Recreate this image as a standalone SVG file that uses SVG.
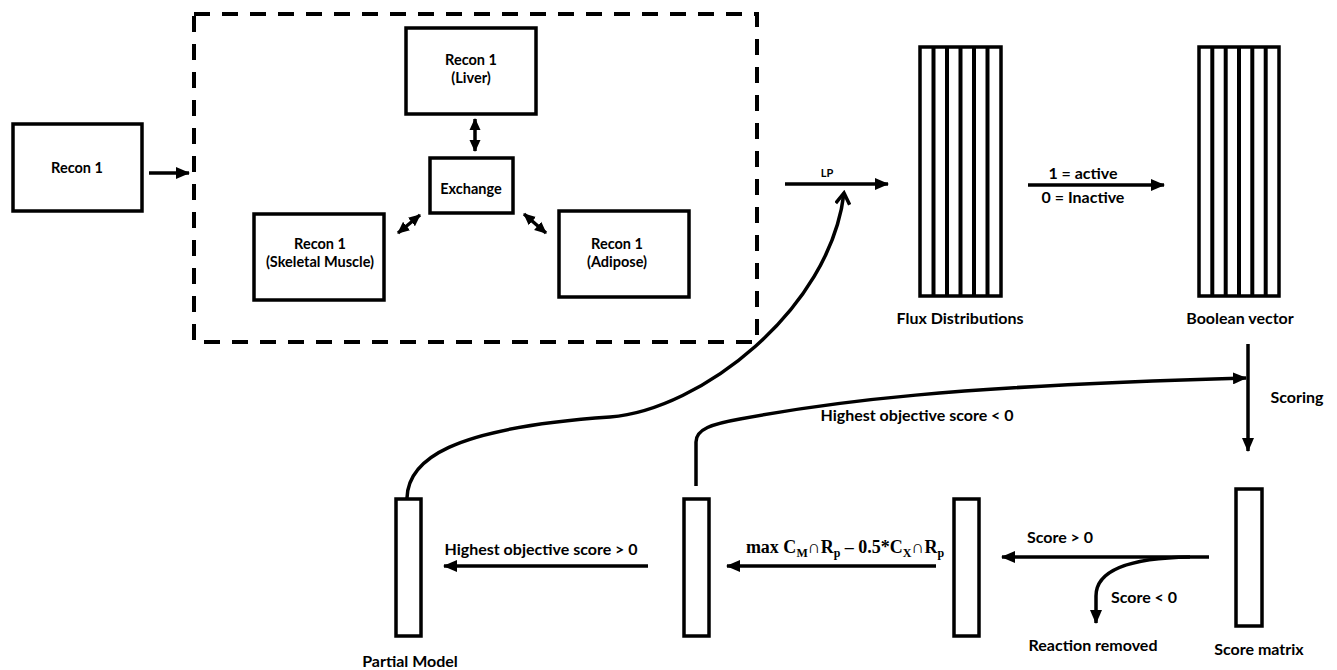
<svg xmlns="http://www.w3.org/2000/svg" width="1337" height="670" viewBox="0 0 1337 670">
<style>
.box{fill:#fff;stroke:#000;stroke-width:3.5}
.lbl{font-family:Lato,"Liberation Sans",sans-serif;font-weight:bold;font-size:16px;fill:#000;text-anchor:middle}
.bt{font-size:14.5px}
.sm{font-size:11px}
.con{fill:none;stroke:#000;stroke-width:3.5}
.math{font-family:"Liberation Serif",serif;font-weight:bold;font-size:18px;fill:#000;text-anchor:middle}
.stripe{stroke:#000;stroke-width:4}
</style>
<defs>
<marker id="ah" markerUnits="userSpaceOnUse" markerWidth="14" markerHeight="12" refX="13" refY="6" orient="auto-start-reverse"><path d="M0,0 L14,6 L0,12 z" fill="#000"/></marker>
<marker id="ahs" markerUnits="userSpaceOnUse" markerWidth="12" markerHeight="12" refX="11" refY="6" orient="auto-start-reverse"><path d="M0,0.5 L12,6 L0,11.5 z" fill="#000"/></marker>
<marker id="open" markerUnits="userSpaceOnUse" markerWidth="16" markerHeight="16" refX="13" refY="8" orient="auto"><path d="M2,1 L13,8 L2,15" fill="none" stroke="#000" stroke-width="3.5"/></marker>
</defs>

<g id="dashed-container"><rect x="194" y="14" width="563" height="328" fill="none" stroke="#000" stroke-width="4" stroke-dasharray="16 12"/></g>

<g id="recon1"><rect class="box" x="13" y="124" width="129" height="87"/><text class="lbl bt" x="77" y="173">Recon 1</text></g>
<g id="liver"><rect class="box" x="406" y="28" width="130" height="86"/><text class="lbl bt" x="471" y="65">Recon 1</text><text class="lbl bt" x="471" y="83">(Liver)</text></g>
<g id="exchange"><rect class="box" x="430" y="158" width="83" height="55"/><text class="lbl bt" x="471" y="194">Exchange</text></g>
<g id="skeletal"><rect class="box" x="254" y="214" width="130" height="86"/><text class="lbl bt" x="320" y="249">Recon 1</text><text class="lbl bt" x="320" y="267">(Skeletal Muscle)</text></g>
<g id="adipose"><rect class="box" x="559" y="211" width="130" height="86"/><text class="lbl bt" x="617" y="249">Recon 1</text><text class="lbl bt" x="617" y="267">(Adipose)</text></g>

<g id="flux">
<rect class="box" x="920" y="47" width="81" height="249" stroke-width="4"/>
<line class="stripe" x1="933.5" y1="47" x2="933.5" y2="296"/><line class="stripe" x1="947" y1="47" x2="947" y2="296"/><line class="stripe" x1="960.5" y1="47" x2="960.5" y2="296"/><line class="stripe" x1="974" y1="47" x2="974" y2="296"/><line class="stripe" x1="987.5" y1="47" x2="987.5" y2="296"/>
<text class="lbl" x="960" y="324">Flux Distributions</text>
</g>
<g id="boolean">
<rect class="box" x="1199" y="47" width="80" height="249" stroke-width="4"/>
<line class="stripe" x1="1212.3" y1="47" x2="1212.3" y2="296"/><line class="stripe" x1="1225.7" y1="47" x2="1225.7" y2="296"/><line class="stripe" x1="1239" y1="47" x2="1239" y2="296"/><line class="stripe" x1="1252.3" y1="47" x2="1252.3" y2="296"/><line class="stripe" x1="1265.7" y1="47" x2="1265.7" y2="296"/>
<text class="lbl" x="1240" y="324">Boolean vector</text>
</g>

<g id="score-matrix"><rect class="box" x="1236" y="489" width="26" height="137"/><text class="lbl" x="1259" y="655">Score matrix</text></g>
<g id="candidate"><rect class="box" x="954" y="499" width="25" height="137"/></g>
<g id="selected"><rect class="box" x="684" y="499" width="25" height="137"/></g>
<g id="partial-model"><rect class="box" x="396" y="499" width="25" height="137"/><text class="lbl" x="410" y="667">Partial Model</text></g>

<g id="connectors">
<line class="con" x1="149" y1="173" x2="189" y2="173" marker-end="url(#ah)"/>
<line class="con" x1="475" y1="119" x2="475" y2="151" stroke-width="3" marker-start="url(#ahs)" marker-end="url(#ahs)"/>
<line class="con" x1="398" y1="233" x2="420" y2="215" stroke-width="3" marker-start="url(#ahs)" marker-end="url(#ahs)"/>
<line class="con" x1="524" y1="214" x2="546" y2="233" stroke-width="3" marker-start="url(#ahs)" marker-end="url(#ahs)"/>
<line class="con" x1="785" y1="184" x2="888" y2="184" marker-end="url(#ah)"/>
<text class="lbl sm" x="827" y="177">LP</text>
<line class="con" x1="1028" y1="185" x2="1164" y2="185" marker-end="url(#ah)"/>
<text class="lbl" x="1083" y="179">1 = active</text>
<text class="lbl" x="1083" y="203">0 = Inactive</text>
<line class="con" x1="1248" y1="344" x2="1248" y2="451" marker-end="url(#ah)"/>
<text class="lbl" x="1297" y="403">Scoring</text>
<line class="con" x1="1209" y1="557" x2="1002" y2="557" marker-end="url(#ah)"/>
<text class="lbl" x="1060" y="543">Score &gt; 0</text>
<path class="con" d="M1190,557 C1125,558 1096,572 1096,596 L1096,623" marker-end="url(#ah)"/>
<text class="lbl" x="1144" y="603">Score &lt; 0</text>
<text class="lbl" x="1093" y="651">Reaction removed</text>
<line class="con" x1="936" y1="566" x2="727" y2="566" marker-end="url(#ah)"/>
<text class="math" x="845" y="553">max C<tspan font-size="12" dy="4">M</tspan><tspan dy="-4">∩R</tspan><tspan font-size="12" dy="4">p</tspan><tspan dy="-4"> – 0.5*C</tspan><tspan font-size="12" dy="4">X</tspan><tspan dy="-4">∩R</tspan><tspan font-size="12" dy="4">p</tspan></text>
<line class="con" x1="648" y1="566" x2="444" y2="566" marker-end="url(#ah)"/>
<text class="lbl" x="541" y="555">Highest objective score &gt; 0</text>
<path class="con" d="M696,486 L696,442 C696,429 712,424 740,419 C830,402 950,386 1246,378" marker-end="url(#ah)"/>
<text class="lbl" x="917" y="421">Highest objective score &lt; 0</text>
<path class="con" d="M407,498 C408,460 450,428 610,417 C700,410 830,310 844,193" marker-end="url(#open)"/>
</g>
</svg>
